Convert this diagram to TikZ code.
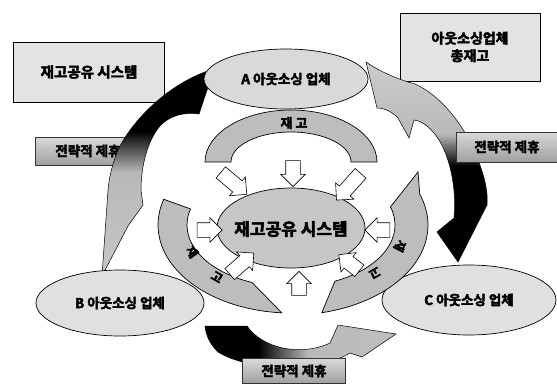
\documentclass[tikz,border=0pt]{standalone}
\usepackage{fontspec}
\newfontfamily\krb{Noto Sans CJK KR Bold}[FakeBold=3]
\usetikzlibrary{shapes.arrows,shapes.geometric}
\colorlet{gL}{gray!45}
\colorlet{gM}{gray!55}
\colorlet{gR}{gray!40}
\pgfdeclareverticalshading{lshade}{100bp}{color(0bp)=(gL); color(25bp)=(gL); color(50bp)=(gM); color(60bp)=(black); color(100bp)=(black)}
\pgfdeclareverticalshading{rshade}{100bp}{color(0bp)=(black); color(49bp)=(black); color(57bp)=(gM); color(75bp)=(gR); color(100bp)=(gR)}
\pgfdeclarehorizontalshading{bshade}{100bp}{color(0bp)=(black); color(39bp)=(black); color(52bp)=(gM); color(100bp)=(gL)}
\begin{document}
\begin{tikzpicture}[x=1pt,y=-1pt,
  ktxt/.style={font=\krb\fontsize{#1}{#1}\selectfont, text=black},
  boxsty/.style={draw=black, line width=0.8pt, fill=gray!22, rectangle, inner sep=0},
  lblsty/.style={draw=black!80, line width=0.6pt, rectangle, inner sep=0, top color=gray!30, bottom color=gray!75},
  ellsty/.style={draw=black, line width=0.7pt, fill=gray!24, ellipse, inner sep=0},
  arcsty/.style={draw=black, line width=0.7pt, fill=gray!52},
  bigarr/.style={draw=black, line width=0.5pt},
  warr/.style={single arrow, draw=black, line width=0.6pt, fill=white, inner xsep=0pt, inner ysep=7pt,
    single arrow head extend=5pt, minimum height=#1}]
\useasboundingbox[fill=white] (0,0) rectangle (557,383);

% label box under the left curved arrow
\node[lblsty, minimum width=105pt, minimum height=28pt, ktxt=13.5] (lblL) at (88,151) {전략적 제휴};
\node[boxsty, minimum width=151pt, minimum height=60pt, ktxt=14.5] (tl) at (89,72) {재고공유 시스템};
\node[boxsty, minimum width=140pt, minimum height=68pt, font=\krb\fontsize{14}{17.5}\selectfont, align=center] (tr) at (470,47) {아웃소싱업체\\총재고};

% big curved arrows
\shade[shading=lshade, bigarr] (214,69) .. controls (175,80) and (135,115) .. (118,150)
  .. controls (112,165) and (109,178) .. (108,190) -- (102,276) -- (128,226) -- (143,205) -- (141,190)
  .. controls (141,165) and (148,140) .. (160,126) .. controls (170,115) and (185,112) .. (199,114) -- cycle;
\shade[shading=rshade, bigarr] (366,62) .. controls (380,72) and (400,80) .. (415,84)
  .. controls (440,95) and (465,125) .. (478,160) .. controls (486,180) and (488,195) .. (487,205)
  -- (458,262) -- (437,232) -- (454,218) .. controls (457,190) and (450,155) .. (437,137)
  .. controls (430,127) and (422,121) .. (414,120) -- (409,138) -- (398,118)
  .. controls (392,112) and (385,108) .. (377,108) -- cycle;
\shade[shading=bshade, bigarr] (205,326) -- (247,326) .. controls (262,348) and (300,357) .. (330,343)
  -- (338,325) -- (396,334) -- (362,357) -- (350,353) .. controls (320,372) and (250,372) .. (218,352)
  .. controls (210,344) and (206,336) .. (205,326) -- cycle;

\node[lblsty, minimum width=102pt, minimum height=30pt, ktxt=13.5] (lblR) at (507,147) {전략적 제휴};
\node[lblsty, minimum width=103pt, minimum height=25pt, ktxt=13.5] (lblB) at (294,371) {전략적 제휴};

% outsourcing companies
\node[ellsty, fill=gray!30, minimum width=164pt, minimum height=60pt, ktxt=13.5] (A) at (286,79) {A 아웃소싱 업체};
\node[ellsty, minimum width=168pt, minimum height=66pt, ktxt=13.5] (B) at (120,303) {B 아웃소싱 업체};
\node[ellsty, minimum width=174pt, minimum height=70pt, ktxt=13.5] (C) at (469,300) {C 아웃소싱 업체};

% inventory arcs
\draw[arcsty] (205,162) arc[start angle=180, end angle=360, x radius=86, y radius=52]
  -- (351,162) arc[start angle=0, end angle=-180, x radius=60, y radius=30] -- cycle;
\begin{scope}[shift={(291,225)}]
\draw[arcsty] (197:133 and 88) arc[start angle=197, end angle=94, x radius=133, y radius=88]
  -- (112:104 and 62) arc[start angle=112, end angle=195, x radius=104, y radius=62] -- cycle;
\draw[arcsty] (77:137 and 90) arc[start angle=77, end angle=-20, x radius=137, y radius=90]
  -- (127,-53) -- (-17:104 and 62) arc[start angle=-17, end angle=65, x radius=104, y radius=62] -- cycle;
\end{scope}
\node[ktxt=13] (t1) at (294,123) {재 고};
\node[ktxt=12, rotate=-55] (t2) at (192,252) {재};
\node[ktxt=12, rotate=-30] (t3) at (217,277) {고};
\node[ktxt=12, rotate=-117] (t4) at (400,246) {재};
\node[ktxt=12, rotate=-150] (t5) at (375,273) {고};

% central system
\node[ellsty, fill=gray!45, minimum width=148pt, minimum height=80pt] (S) at (291,228) {};
\node[ktxt=17] (St) at (291,229) {재고공유 시스템};

% white block arrows into the system
\node[warr=26pt, rotate=-90] (w1) at (293,170) {};
\node[warr=34pt, rotate=-40] (w2) at (231,181) {};
\node[warr=36pt, rotate=-132] (w3) at (351,184) {};
\node[warr=25pt, rotate=0] (w4) at (206,230) {};
\node[warr=25pt, rotate=180] (w5) at (381,230) {};
\node[warr=32pt, rotate=41] (w6) at (239,266) {};
\node[warr=26pt, rotate=142] (w7) at (352,265) {};
\node[warr=24pt, rotate=90] (w8) at (299,287) {};
\end{tikzpicture}
\end{document}
